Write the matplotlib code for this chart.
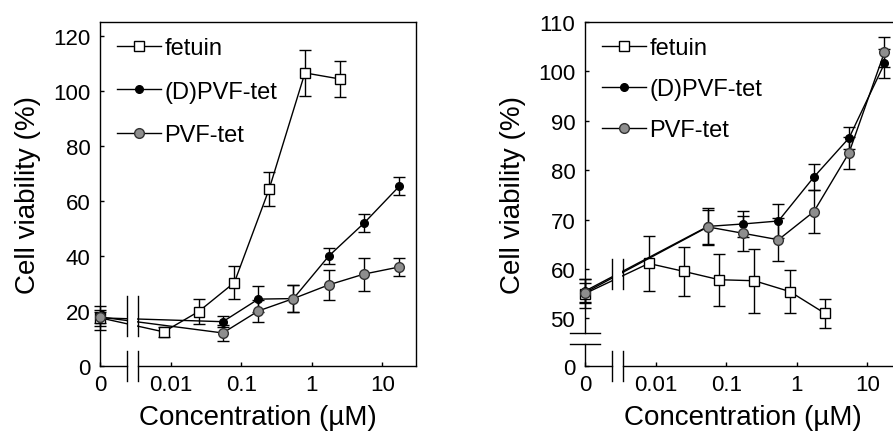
import numpy as np
import matplotlib

matplotlib.use("Agg")
import matplotlib.pyplot as plt
from matplotlib.ticker import FixedLocator, FixedFormatter, NullLocator

plt.rcParams["font.family"] = ["Liberation Sans", "DejaVu Sans"]

# concentrations in uM, 0 = untreated control
conc_fetuin = [0, 0.008, 0.025, 0.08, 0.25, 0.8, 2.5]
conc_pvf = [0, 0.055, 0.175, 0.55, 1.75, 5.5, 17.5]

# left panel (mean, sd)
left_fetuin = [17.5, 12.4, 19.8, 30.3, 64.4, 106.5, 104.3]
left_fetuin_err = [4.3, 1.8, 4.7, 6.0, 6.2, 8.5, 6.4]
left_dpvf = [17.5, 16.1, 24.3, 24.5, 40.0, 51.9, 65.4]
left_dpvf_err = [3.0, 2.0, 4.7, 4.8, 2.8, 3.3, 3.3]
left_pvf = [17.8, 12.0, 20.0, 24.5, 29.5, 33.4, 36.0]
left_pvf_err = [2.0, 3.0, 3.9, 4.8, 5.4, 6.0, 3.2]

# right panel (mean, sd)
right_fetuin = [55.0, 61.1, 59.5, 57.8, 57.6, 55.4, 51.0]
right_fetuin_err = [3.0, 5.5, 5.0, 5.3, 6.5, 4.3, 3.0]
right_dpvf = [55.5, 68.6, 69.1, 69.7, 78.6, 86.5, 101.6]
right_dpvf_err = [2.5, 3.7, 2.7, 3.4, 2.7, 2.2, 3.0]
right_pvf = [55.2, 68.5, 67.2, 65.9, 71.6, 83.5, 103.9]
right_pvf_err = [2.0, 3.5, 3.5, 4.4, 4.4, 3.3, 3.0]

x_ticks = [0, 0.01, 0.1, 1, 10]
x_ticklabels = ["0", "0.01", "0.1", "1", "10"]
left_yticks = [0, 20, 40, 60, 80, 100, 120]
right_yticks = [0, 50, 60, 70, 80, 90, 100, 110]

X_MAX = 30
BREAK_LO, BREAK_HI = 0.0024, 0.0034   # x-axis break
ZERO_POS = -3.0                        # where "0" sits on the log axis
Y_SHIFT = 40.33                        # right panel: 0 drawn just below the y break
Y_SEG_TOP, Y_UPPER_START = 4.4, 47.0

GRAY = "#8e8e8e"
LW = 1.0


def fwd_x(x):
    x = np.asarray(x, dtype=float)
    return np.where(x > 0, np.log10(np.where(x > 0, x, 1.0)), ZERO_POS)


def inv_x(v):
    return 10.0 ** np.asarray(v, dtype=float)


def fwd_y(y):
    y = np.asarray(y, dtype=float)
    return np.where(y > 20, y, y + Y_SHIFT)


def inv_y(v):
    v = np.asarray(v, dtype=float)
    return np.where(v > Y_SHIFT + 5, v, v - Y_SHIFT)


def draw_series(ax, fet, fet_err, dpvf, dpvf_err, pvf, pvf_err):
    eb = dict(fmt="none", ecolor="black", elinewidth=LW, capsize=4.5, capthick=LW)
    for xs, ys, es in ((conc_fetuin, fet, fet_err), (conc_pvf, dpvf, dpvf_err),
                       (conc_pvf, pvf, pvf_err)):
        cont = ax.errorbar(xs, ys, yerr=es, zorder=2, **eb)
        for art in cont.get_children():
            art.set_clip_on(False)
    h1, = ax.plot(conc_fetuin, fet, "-s", color="black", lw=LW, ms=6.5,
                  mfc="white", mec="black", mew=1.0, label="fetuin", zorder=3,
                  clip_on=False)
    h2, = ax.plot(conc_pvf, dpvf, "-o", color="black", lw=LW, ms=5.5,
                  mfc="black", mec="black", label="(D)PVF-tet", zorder=3.5,
                  clip_on=False)
    h3, = ax.plot(conc_pvf, pvf, "-o", color="black", lw=LW, ms=7,
                  mfc=GRAY, mec="#333333", mew=1.0, label="PVF-tet", zorder=4,
                  clip_on=False)
    return [h1, h2, h3]


def setup_x(ax, mark_lo, mark_hi):
    ax.set_xscale("function", functions=(fwd_x, inv_x))
    ax.set_xlim(0, X_MAX)
    ax.xaxis.set_major_locator(FixedLocator(x_ticks))
    ax.xaxis.set_major_formatter(FixedFormatter(x_ticklabels))
    ax.xaxis.set_minor_locator(NullLocator())
    ax.spines["bottom"].set_bounds(BREAK_HI, X_MAX)
    tr = ax.get_xaxis_transform()
    ax.plot([0, BREAK_LO], [0, 0], color="black", lw=LW, transform=tr, clip_on=False)
    for b in (BREAK_LO, BREAK_HI):
        ax.plot([b, b], [-0.044, 0.044], color="black", lw=LW, transform=tr, clip_on=False)
        ax.plot([b, b], [mark_lo, mark_hi], color="black", lw=LW, zorder=6)
    # cut the lines between the two break marks
    ax.fill_between([BREAK_LO * 1.03, BREAK_HI * 0.97], mark_lo, mark_hi,
                    color="white", lw=0, zorder=5)


def style_axes(ax, legend_handles, spacing):
    ax.tick_params(axis="both", direction="in", length=3, width=LW,
                   labelsize=16, top=False, right=False)
    ax.tick_params(axis="y", pad=7)
    ax.tick_params(axis="x", pad=6)
    for s in ax.spines.values():
        s.set_linewidth(LW)
    ax.set_xlabel("Concentration (\u00b5M)", fontsize=20, labelpad=6)
    ax.set_ylabel("Cell viability (%)", fontsize=20, labelpad=9)
    ax.legend(handles=legend_handles, loc="upper left", frameon=False,
              bbox_to_anchor=(0.055, 0.955), borderaxespad=0, borderpad=0,
              fontsize=17, handlelength=1.85, handletextpad=0.15,
              labelspacing=spacing)


fig = plt.figure(figsize=(8.93, 4.39), dpi=100)
ax1 = fig.add_axes([100 / 893, 72 / 439, 316 / 893, 344 / 439])
ax2 = fig.add_axes([585 / 893, 72 / 439, 316 / 893, 344 / 439])

# left panel
handles = draw_series(ax1, left_fetuin, left_fetuin_err, left_dpvf, left_dpvf_err,
                      left_pvf, left_pvf_err)
ax1.set_ylim(0, 125)
ax1.yaxis.set_major_locator(FixedLocator(left_yticks))
setup_x(ax1, 11, 25.5)
style_axes(ax1, handles, 0.9)

# right panel, y axis broken between 0 and 50
ax2.set_yscale("function", functions=(fwd_y, inv_y))
handles = draw_series(ax2, right_fetuin, right_fetuin_err, right_dpvf, right_dpvf_err,
                      right_pvf, right_pvf_err)
ax2.set_ylim(0, 110)
ax2.yaxis.set_major_locator(FixedLocator(right_yticks))
ax2.yaxis.set_major_formatter(FixedFormatter([str(t) for t in right_yticks]))
ax2.yaxis.set_minor_locator(NullLocator())
ax2.spines["left"].set_bounds(Y_UPPER_START, 110)
ytr = ax2.get_yaxis_transform()
ax2.plot([0, 0], [0, Y_SEG_TOP], color="black", lw=LW, transform=ytr, clip_on=False)
for b in (Y_SEG_TOP, Y_UPPER_START):
    ax2.plot([-0.048, 0.048], [b, b], color="black", lw=LW, transform=ytr, clip_on=False)
setup_x(ax2, 56, 62)
style_axes(ax2, handles, 0.8)

fig.savefig("out.png", dpi=100)
